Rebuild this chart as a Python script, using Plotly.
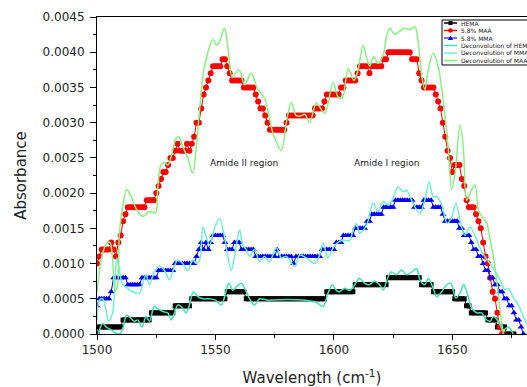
import plotly.graph_objects as go

W, H = 527, 387
ML, MR, MT, MB = 97, 0, 17, 53

# ---------------- data (wavenumber, absorbance) ----------------
wn_hema = list(range(1500, 1677))
hema = [
    0.0000, 0.0001, 0.0001, 0.0001, 0.0001, 0.0001, 0.0001, 0.0001, 0.0001, 0.0001,
    0.0001, 0.0002, 0.0002, 0.0002, 0.0002, 0.0002, 0.0002, 0.0002, 0.0002, 0.0002,
    0.0002, 0.0002, 0.0002, 0.0003, 0.0003, 0.0003, 0.0003, 0.0003, 0.0003, 0.0003,
    0.0003, 0.0003, 0.0003, 0.0004, 0.0004, 0.0004, 0.0004, 0.0004, 0.0004, 0.0004,
    0.0005, 0.0005, 0.0005, 0.0005, 0.0005, 0.0005, 0.0005, 0.0005, 0.0005, 0.0005,
    0.0005, 0.0005, 0.0005, 0.0005, 0.0005, 0.0006, 0.0006, 0.0006, 0.0006, 0.0006,
    0.0006, 0.0006, 0.0006, 0.0005, 0.0005, 0.0005, 0.0005, 0.0005, 0.0005, 0.0005,
    0.0005, 0.0005, 0.0005, 0.0005, 0.0005, 0.0005, 0.0005, 0.0005, 0.0005, 0.0005,
    0.0005, 0.0005, 0.0005, 0.0005, 0.0005, 0.0005, 0.0005, 0.0005, 0.0005, 0.0005,
    0.0005, 0.0005, 0.0005, 0.0005, 0.0005, 0.0005, 0.0005, 0.0006, 0.0006, 0.0006,
    0.0006, 0.0006, 0.0006, 0.0006, 0.0006, 0.0006, 0.0006, 0.0006, 0.0006, 0.0007,
    0.0007, 0.0007, 0.0007, 0.0007, 0.0007, 0.0007, 0.0007, 0.0007, 0.0007, 0.0007,
    0.0007, 0.0007, 0.0007, 0.0008, 0.0008, 0.0008, 0.0008, 0.0008, 0.0008, 0.0008,
    0.0008, 0.0008, 0.0008, 0.0008, 0.0008, 0.0008, 0.0008, 0.0007, 0.0007, 0.0007,
    0.0007, 0.0007, 0.0006, 0.0006, 0.0006, 0.0006, 0.0006, 0.0006, 0.0006, 0.0006,
    0.0006, 0.0005, 0.0005, 0.0005, 0.0005, 0.0005, 0.0004, 0.0004, 0.0003, 0.0003,
    0.0003, 0.0003, 0.0003, 0.0003, 0.0003, 0.0002, 0.0002, 0.0002, 0.0002, 0.0001,
    0.0001, 0.0001, 0.0001, 0.0000, 0.0000, 0.0000, 0.0000,
]

wn_maa = list(range(1500, 1672))
maa = [
    0.0010, 0.0011, 0.0012, 0.0012, 0.0012, 0.0012, 0.0013, 0.0012, 0.0011, 0.0013,
    0.0014, 0.0016, 0.0017, 0.0018, 0.0018, 0.0018, 0.0018, 0.0018, 0.0018, 0.0018,
    0.0018, 0.0019, 0.0019, 0.0019, 0.0019, 0.0020, 0.0021, 0.0022, 0.0023, 0.0023,
    0.0024, 0.0025, 0.0025, 0.0026, 0.0027, 0.0026, 0.0026, 0.0026, 0.0027, 0.0026,
    0.0027, 0.0028, 0.0030, 0.0030, 0.0032, 0.0034, 0.0035, 0.0036, 0.0037, 0.0038,
    0.0038, 0.0038, 0.0038, 0.0039, 0.0039, 0.0038, 0.0037, 0.0036, 0.0036, 0.0036,
    0.0036, 0.0036, 0.0035, 0.0035, 0.0035, 0.0035, 0.0035, 0.0034, 0.0033, 0.0032,
    0.0032, 0.0031, 0.0030, 0.0029, 0.0029, 0.0029, 0.0029, 0.0029, 0.0029, 0.0029,
    0.0030, 0.0031, 0.0031, 0.0031, 0.0031, 0.0031, 0.0031, 0.0031, 0.0031, 0.0031,
    0.0031, 0.0031, 0.0032, 0.0032, 0.0032, 0.0032, 0.0033, 0.0034, 0.0034, 0.0034,
    0.0034, 0.0034, 0.0034, 0.0035, 0.0035, 0.0036, 0.0036, 0.0036, 0.0036, 0.0036,
    0.0037, 0.0038, 0.0038, 0.0038, 0.0038, 0.0037, 0.0038, 0.0038, 0.0038, 0.0038,
    0.0038, 0.0039, 0.0039, 0.0040, 0.0040, 0.0040, 0.0040, 0.0040, 0.0040, 0.0040,
    0.0040, 0.0040, 0.0040, 0.0039, 0.0039, 0.0039, 0.0037, 0.0036, 0.0035, 0.0035,
    0.0035, 0.0035, 0.0035, 0.0034, 0.0033, 0.0032, 0.0030, 0.0028, 0.0026, 0.0025,
    0.0023, 0.0024, 0.0024, 0.0024, 0.0022, 0.0021, 0.0019, 0.0018, 0.0018, 0.0018,
    0.0017, 0.0016, 0.0015, 0.0013, 0.0011, 0.0010, 0.0008, 0.0006, 0.0005, 0.0003,
    0.0001, 0.0000,
]

wn_mma = list(range(1500, 1681))
mma = [
    0.0004, 0.0005, 0.0005, 0.0005, 0.0005, 0.0005, 0.0006, 0.0008, 0.0008, 0.0008,
    0.0008, 0.0008, 0.0008, 0.0007, 0.0007, 0.0007, 0.0007, 0.0007, 0.0007, 0.0008,
    0.0008, 0.0008, 0.0008, 0.0008, 0.0008, 0.0008, 0.0009, 0.0009, 0.0009, 0.0009,
    0.0009, 0.0009, 0.0009, 0.0010, 0.0010, 0.0010, 0.0010, 0.0010, 0.0010, 0.0010,
    0.0010, 0.0010, 0.0011, 0.0012, 0.0013, 0.0012, 0.0013, 0.0012, 0.0013, 0.0014,
    0.0014, 0.0014, 0.0014, 0.0014, 0.0013, 0.0012, 0.0012, 0.0012, 0.0013, 0.0013,
    0.0013, 0.0012, 0.0012, 0.0012, 0.0012, 0.0012, 0.0012, 0.0011, 0.0011, 0.0011,
    0.0011, 0.0011, 0.0011, 0.0011, 0.0011, 0.0011, 0.0012, 0.0011, 0.0011, 0.0011,
    0.0011, 0.0011, 0.0011, 0.0010, 0.0011, 0.0011, 0.0011, 0.0011, 0.0011, 0.0011,
    0.0011, 0.0011, 0.0011, 0.0011, 0.0011, 0.0012, 0.0012, 0.0012, 0.0012, 0.0012,
    0.0012, 0.0013, 0.0013, 0.0013, 0.0014, 0.0014, 0.0014, 0.0014, 0.0014, 0.0015,
    0.0015, 0.0015, 0.0015, 0.0015, 0.0016, 0.0016, 0.0017, 0.0017, 0.0017, 0.0017,
    0.0017, 0.0018, 0.0018, 0.0018, 0.0018, 0.0018, 0.0019, 0.0019, 0.0019, 0.0019,
    0.0019, 0.0019, 0.0019, 0.0019, 0.0018, 0.0018, 0.0018, 0.0018, 0.0019, 0.0019,
    0.0019, 0.0019, 0.0018, 0.0018, 0.0018, 0.0018, 0.0017, 0.0016, 0.0016, 0.0016,
    0.0016, 0.0016, 0.0016, 0.0015, 0.0015, 0.0014, 0.0014, 0.0014, 0.0013, 0.0012,
    0.0012, 0.0011, 0.0011, 0.0010, 0.0009, 0.0009, 0.0008, 0.0008, 0.0007, 0.0007,
    0.0006, 0.0006, 0.0005, 0.0005, 0.0004, 0.0004, 0.0003, 0.0002, 0.0002, 0.0001,
    0.0000,
]

# deconvolution curves (read at irregular wavenumbers)
dec_maa_x = [1500, 1502.4, 1504.5, 1505.5, 1506.6, 1507.6, 1508.7, 1509.4, 1510.8, 1512.5,
             1514.4, 1516.5, 1519.3, 1522.1, 1524.7, 1525.6, 1527, 1528.5, 1530, 1531.3,
             1533.4, 1534.5, 1536.2, 1538.3, 1540.4, 1541.9, 1543.3, 1545, 1546.8, 1548.9,
             1550.6, 1551.7, 1553.8, 1555.2, 1557.1, 1559.9, 1562.3, 1565.1, 1567.9, 1570.7,
             1574.3, 1577.8, 1579.9, 1582, 1584.1, 1586.3, 1587.7, 1589.8, 1592.6, 1596.1,
             1599.6, 1601.7, 1603.5, 1606, 1608.4, 1610.2, 1612.3, 1613.7, 1615.1, 1616.8,
             1618.6, 1620.8, 1622.2, 1623.6, 1625.7, 1627.8, 1630, 1632.1, 1634.2, 1635.6,
             1637, 1638.4, 1639.8, 1641.9, 1644, 1646.1, 1648.2, 1649.7, 1651.2, 1653.2,
             1654.6, 1656, 1657.5, 1659.5, 1661, 1662.4, 1664.5, 1665.9, 1667.3, 1668.7,
             1670.1, 1671.5]
dec_maa_y = [0.00060, 0.00115, 0.00130, 0.00130, 0.00105, 0.00060, 0.00070, 0.00140, 0.00180, 0.00205,
             0.00195, 0.00178, 0.00167, 0.00174, 0.00172, 0.00205, 0.00240, 0.00243, 0.00240, 0.00252,
             0.00278, 0.00280, 0.00266, 0.00250, 0.00228, 0.00266, 0.00318, 0.00373, 0.00400, 0.00418,
             0.00410, 0.00415, 0.00434, 0.00408, 0.00365, 0.00375, 0.00354, 0.00370, 0.00347, 0.00335,
             0.00285, 0.00261, 0.00300, 0.00329, 0.00310, 0.00310, 0.00312, 0.00300, 0.00328, 0.00313,
             0.00357, 0.00337, 0.00335, 0.00377, 0.00360, 0.00375, 0.00410, 0.00394, 0.00380, 0.00394,
             0.00384, 0.00396, 0.00422, 0.00434, 0.00425, 0.00430, 0.00434, 0.00432, 0.00436, 0.00413,
             0.00368, 0.00347, 0.00375, 0.00399, 0.00380, 0.00332, 0.00266, 0.00205, 0.00230, 0.00297,
             0.00266, 0.00190, 0.00200, 0.00212, 0.00176, 0.00167, 0.00157, 0.00134, 0.00110, 0.00077,
             0.00034, 0.00000]

dec_mma_x = [1500, 1501, 1502.4, 1503.8, 1504.9, 1506.6, 1507.7, 1508.4, 1509.7, 1510.8,
             1512.9, 1515, 1517.9, 1519.3, 1520.7, 1522.1, 1524.2, 1526.3, 1528.5, 1530.6,
             1532.7, 1534.1, 1536.2, 1538.3, 1540.4, 1541.9, 1543.3, 1544.7, 1546.1, 1547.5,
             1549.6, 1551.7, 1553.8, 1555.2, 1556.7, 1558.8, 1560.2, 1561.6, 1563, 1564.4,
             1566.5, 1568.6, 1570.7, 1572.8, 1575.7, 1577.8, 1579.9, 1583.5, 1585.5, 1588.4,
             1591.9, 1594, 1595.4, 1597.5, 1599.6, 1601.7, 1603.9, 1606.7, 1608.1, 1609.5,
             1610.9, 1613, 1614.4, 1616.5, 1618.6, 1620.8, 1622.9, 1625, 1627.1, 1629.2,
             1630.7, 1632.1, 1634.2, 1636.3, 1638.4, 1640.2, 1641.9, 1643.6, 1645.5, 1647.8,
             1649.7, 1651.5, 1653.2, 1655.3, 1657.4, 1659.5, 1662.4, 1665.2, 1667.3, 1670.1,
             1672.2, 1673.6, 1675.7, 1678, 1680, 1682]
dec_mma_y = [0.00020, 0.00048, 0.00050, 0.00034, 0.00018, 0.00030, 0.00081, 0.00108, 0.00086, 0.00070,
             0.00065, 0.00060, 0.00058, 0.00072, 0.00084, 0.00070, 0.00088, 0.00096, 0.00090, 0.00077,
             0.00096, 0.00105, 0.00100, 0.00090, 0.00105, 0.00100, 0.00105, 0.00152, 0.00138, 0.00126,
             0.00150, 0.00164, 0.00138, 0.00110, 0.00090, 0.00126, 0.00148, 0.00126, 0.00120, 0.00110,
             0.00120, 0.00103, 0.00110, 0.00103, 0.00122, 0.00108, 0.00110, 0.00096, 0.00112, 0.00108,
             0.00100, 0.00112, 0.00129, 0.00108, 0.00122, 0.00130, 0.00133, 0.00133, 0.00148, 0.00157,
             0.00143, 0.00150, 0.00160, 0.00186, 0.00174, 0.00188, 0.00183, 0.00193, 0.00209, 0.00202,
             0.00204, 0.00195, 0.00180, 0.00171, 0.00190, 0.00216, 0.00195, 0.00195, 0.00183, 0.00157,
             0.00166, 0.00186, 0.00162, 0.00140, 0.00152, 0.00140, 0.00117, 0.00103, 0.00093, 0.00077,
             0.00063, 0.00065, 0.00052, 0.00040, 0.00025, 0.00010]

dec_hema_x = [1500.5, 1502.4, 1503.8, 1506, 1508, 1509.7, 1511.1, 1512.5, 1514.4, 1515.8,
              1517.2, 1519, 1520.7, 1522.1, 1524.2, 1525.6, 1527.7, 1529.9, 1531.3, 1532.7,
              1534.1, 1535.9, 1537.6, 1539, 1540.7, 1542.6, 1544.7, 1547.5, 1550, 1552.4,
              1553.8, 1555.6, 1557.3, 1558.8, 1560.9, 1563, 1564.4, 1566.5, 1568.6, 1572,
              1580, 1588, 1592.6, 1595.4, 1597.5, 1599.3, 1601, 1602.4, 1604.6, 1606.7,
              1608.8, 1610.8, 1613, 1615, 1617, 1619.3, 1620.8, 1622.4, 1624.2, 1626.4,
              1628.5, 1630.7, 1632.8, 1634.9, 1636.3, 1638.4, 1639.8, 1641.9, 1643.3, 1645.5,
              1647.6, 1649.3, 1651.5, 1653.2, 1654.8, 1656.7, 1658.1, 1660.3, 1662.4, 1663.8,
              1665.9, 1667.3, 1669.4, 1671.5, 1673.6, 1675.7]
dec_hema_y = [0.00000, 0.00015, 0.00010, 0.00006, 0.00001, 0.00000, 0.00010, 0.00027, 0.00022, 0.00018,
              0.00020, 0.00010, 0.00025, 0.00018, 0.00039, 0.00036, 0.00032, 0.00030, 0.00020, 0.00030,
              0.00041, 0.00038, 0.00030, 0.00041, 0.00060, 0.00053, 0.00050, 0.00050, 0.00048, 0.00041,
              0.00052, 0.00072, 0.00062, 0.00067, 0.00072, 0.00060, 0.00050, 0.00041, 0.00050, 0.00048,
              0.00049, 0.00048, 0.00045, 0.00039, 0.00058, 0.00070, 0.00062, 0.00060, 0.00065, 0.00062,
              0.00070, 0.00079, 0.00072, 0.00070, 0.00075, 0.00070, 0.00062, 0.00077, 0.00088, 0.00084,
              0.00091, 0.00084, 0.00088, 0.00093, 0.00077, 0.00070, 0.00079, 0.00065, 0.00053, 0.00060,
              0.00070, 0.00072, 0.00051, 0.00058, 0.00070, 0.00053, 0.00037, 0.00030, 0.00030, 0.00022,
              0.00018, 0.00025, 0.00018, 0.00006, 0.00010, 0.00000]

series_names = ["HEMA", "5.8% MAA", "5.8% MMA",
                "Deconvolution of HEMA", "Deconvolution of MMA", "Deconvolution of MAA"]
x_ticks = [1500, 1550, 1600, 1650]
region_labels = ["Amide II region", "Amide I region"]

# ---------------- styles ----------------
C_HEMA, C_MAA, C_MMA = "#000000", "#ff0000", "#0000ff"
C_DHEMA, C_DMMA, C_DMAA = "#3de3b4", "#6ff2d2", "#86f27e"
FONT = "DejaVu Sans"
TXT = "#222222"

fig = go.Figure()
fig.add_trace(go.Scatter(x=wn_hema, y=hema, mode="lines+markers", name=series_names[0],
                         line=dict(color=C_HEMA, width=1),
                         marker=dict(symbol="square", size=5, color=C_HEMA)))
fig.add_trace(go.Scatter(x=wn_maa, y=maa, mode="lines+markers", name=series_names[1],
                         line=dict(color=C_MAA, width=1),
                         marker=dict(symbol="circle", size=6, color=C_MAA)))
fig.add_trace(go.Scatter(x=wn_mma, y=mma, mode="lines+markers", name=series_names[2],
                         line=dict(color=C_MMA, width=1),
                         marker=dict(symbol="triangle-up", size=6, color=C_MMA)))
fig.add_trace(go.Scatter(x=dec_hema_x, y=dec_hema_y, mode="lines", name=series_names[3],
                         line=dict(color=C_DHEMA, width=1.5, shape="spline", smoothing=0.9)))
fig.add_trace(go.Scatter(x=dec_mma_x, y=dec_mma_y, mode="lines", name=series_names[4],
                         line=dict(color=C_DMMA, width=1.5, shape="spline", smoothing=0.9)))
fig.add_trace(go.Scatter(x=dec_maa_x, y=dec_maa_y, mode="lines", name=series_names[5],
                         line=dict(color=C_DMAA, width=1.5, shape="spline", smoothing=0.9)))

PW = W - ML - MR
PH = H - MT - MB


def px(xp):
    return (xp - ML) / PW


def py(yp):
    return (H - MB - yp) / PH


shapes = []
annotations = []
# manual compact legend
shapes.append(dict(type="rect", xref="paper", yref="paper",
                   x0=px(442), x1=px(540), y0=py(65), y1=py(20),
                   line=dict(color="#000000", width=1), fillcolor="rgba(255,255,255,1)", layer="above"))
entry_y = [23, 30.5, 38, 45.5, 53, 60.5]
entry_col = [C_HEMA, C_MAA, "#4a4aff", C_DHEMA, C_DMMA, C_DMAA]
for i, (name, ey, col) in enumerate(zip(series_names, entry_y, entry_col)):
    shapes.append(dict(type="line", xref="paper", yref="paper",
                       x0=px(444), x1=px(457), y0=py(ey), y1=py(ey),
                       line=dict(color=col, width=1.5), layer="above"))
    cx = 450.5
    if i == 0:
        shapes.append(dict(type="rect", xref="paper", yref="paper",
                           x0=px(cx - 2), x1=px(cx + 2), y0=py(ey + 2), y1=py(ey - 2),
                           fillcolor=C_HEMA, line=dict(width=0), layer="above"))
    elif i == 1:
        shapes.append(dict(type="circle", xref="paper", yref="paper",
                           x0=px(cx - 2.3), x1=px(cx + 2.3), y0=py(ey + 2.3), y1=py(ey - 2.3),
                           fillcolor=C_MAA, line=dict(width=0), layer="above"))
    elif i == 2:
        path = "M {} {} L {} {} L {} {} Z".format(px(cx - 2.6), py(ey + 2), px(cx + 2.6), py(ey + 2),
                                                  px(cx), py(ey - 2.6))
        shapes.append(dict(type="path", xref="paper", yref="paper", path=path,
                           fillcolor=C_MMA, line=dict(width=0), layer="above"))
    annotations.append(dict(xref="paper", yref="paper", x=px(459), y=py(ey), text=name,
                            showarrow=False, xanchor="left", yanchor="middle",
                            font=dict(family=FONT, size=6, color=TXT)))

annotations.append(dict(xref="paper", yref="paper", x=px(244), y=py(163), text=region_labels[0],
                        showarrow=False, xanchor="center", yanchor="middle",
                        font=dict(family=FONT, size=9, color=TXT)))
annotations.append(dict(xref="paper", yref="paper", x=px(387), y=py(163), text=region_labels[1],
                        showarrow=False, xanchor="center", yanchor="middle",
                        font=dict(family=FONT, size=9, color=TXT)))

fig.update_layout(
    width=W, height=H, autosize=False,
    margin=dict(l=ML, r=MR, t=MT, b=MB, pad=0, autoexpand=False),
    paper_bgcolor="white", plot_bgcolor="white",
    showlegend=False,
    font=dict(family=FONT, color=TXT),
    shapes=shapes, annotations=annotations,
    xaxis=dict(range=[1500, 1681.5], tickvals=x_ticks, ticktext=[str(v) for v in x_ticks],
               showgrid=False, zeroline=False, automargin=False,
               showline=True, linecolor="#000000", linewidth=1, mirror=True,
               ticks="outside", ticklen=5, tickcolor="#000000", tickwidth=1,
               tickfont=dict(family=FONT, size=12, color=TXT),
               minor=dict(ticks="outside", ticklen=3, dtick=25, tick0=1500, tickcolor="#000000"),
               title=dict(text="Wavelength (cm<sup>-1</sup>)", standoff=16,
                          font=dict(family=FONT, size=15, color=TXT))),
    yaxis=dict(range=[0, 0.0045], dtick=0.0005, tick0=0, tickformat=".4f",
               showgrid=False, zeroline=False, automargin=False,
               showline=True, linecolor="#000000", linewidth=1, mirror=True,
               ticks="outside", ticklen=6, tickcolor="#000000", tickwidth=1,
               ticklabelstandoff=3,
               tickfont=dict(family=FONT, size=12, color=TXT),
               minor=dict(ticks="outside", ticklen=3, dtick=0.00025, tick0=0, tickcolor="#000000"),
               title=dict(text="Absorbance", standoff=12,
                          font=dict(family=FONT, size=15, color=TXT))),
)

fig.write_html(
    "out.html",
    config={"displayModeBar": False},
    post_script=(
        "document.documentElement.style.margin='0';"
        "document.documentElement.style.overflow='hidden';"
        "document.body.style.margin='0';document.body.style.padding='0';"
        "document.body.style.overflow='hidden';"
    ),
)
